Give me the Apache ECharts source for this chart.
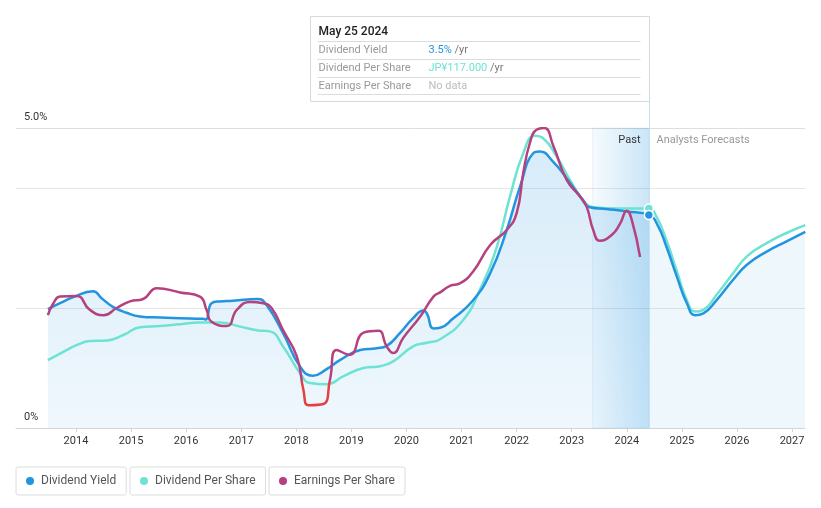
<!DOCTYPE html>
<html><head><meta charset="utf-8">
<script src="https://cdn.jsdelivr.net/npm/echarts@6/dist/echarts.min.js"></script>
<style>html,body{margin:0;padding:0;background:#fff}#c{width:821px;height:508px}</style>
</head><body><div id="c"></div>
<script>
// ---- data ----
const yearTicks = [2014,2015,2016,2017,2018,2019,2020,2021,2022,2023,2024,2025,2026,2027];
const yieldT = [2013.49,2013.71,2013.95,2014.31,2014.47,2014.67,2014.92,2015.16,2015.53,2015.89,2016.31,2016.36,2016.46,2016.61,2016.85,2017.30,2017.46,2017.76,2018.07,2018.30,2018.55,2018.79,2019.16,2019.46,2019.64,2019.88,2020.12,2020.31,2020.37,2020.49,2020.61,2020.84,2021.21,2021.52,2021.82,2022.06,2022.30,2022.42,2022.66,2022.91,2023.15,2023.33,2023.63,2024.00,2024.40,2024.57,2024.72,2024.91,2025.09,2025.24,2025.39,2025.63,2025.93,2026.18,2026.54,2026.90,2027.24];
const yieldV = [1.98,2.08,2.18,2.28,2.16,2.02,1.92,1.86,1.84,1.83,1.82,1.81,2.08,2.11,2.12,2.15,2.05,1.58,1.02,0.87,0.98,1.13,1.30,1.33,1.37,1.58,1.83,1.96,1.91,1.66,1.67,1.82,2.13,2.58,3.30,4.02,4.58,4.61,4.44,4.16,3.86,3.68,3.65,3.61,3.55,3.36,3.02,2.52,2.08,1.88,1.91,2.13,2.47,2.72,2.94,3.11,3.27];
const dpsT = [2013.49,2013.77,2014.01,2014.25,2014.56,2014.86,2015.16,2015.53,2015.89,2016.25,2016.61,2016.98,2017.28,2017.52,2017.76,2018.07,2018.25,2018.55,2018.85,2019.22,2019.52,2019.76,2020.12,2020.37,2020.61,2021.03,2021.33,2021.64,2021.88,2022.12,2022.33,2022.48,2022.73,2022.97,2023.21,2023.39,2023.88,2024.40,2024.54,2024.72,2024.91,2025.09,2025.24,2025.39,2025.63,2025.93,2026.18,2026.54,2026.90,2027.24];
const dpsV = [1.13,1.27,1.38,1.45,1.46,1.55,1.68,1.70,1.73,1.76,1.76,1.69,1.63,1.61,1.36,0.91,0.75,0.73,0.86,1.00,1.03,1.11,1.36,1.42,1.48,1.80,2.30,3.02,3.86,4.58,4.87,4.83,4.52,4.13,3.80,3.68,3.66,3.66,3.52,3.13,2.61,2.13,1.94,1.97,2.22,2.58,2.86,3.08,3.25,3.38];
const epsT = [2013.49,2013.59,2013.71,2014.01,2014.25,2014.50,2014.74,2014.98,2015.22,2015.47,2015.89,2016.25,2016.37,2016.46,2016.74,2016.92,2017.16,2017.40,2017.55,2017.76,2018.01,2018.13,2018.22,2018.49,2018.61,2018.73,2018.97,2019.22,2019.49,2019.64,2019.76,2019.94,2020.25,2020.49,2020.61,2020.79,2020.97,2021.21,2021.52,2021.82,2022.00,2022.12,2022.24,2022.36,2022.50,2022.67,2022.91,2023.15,2023.27,2023.39,2023.51,2023.73,2023.88,2024.00,2024.09,2024.24];
const epsV = [1.88,2.08,2.19,2.20,1.97,1.88,2.00,2.11,2.15,2.33,2.26,2.19,1.97,1.77,1.70,1.97,2.10,2.08,2.00,1.63,1.19,0.63,0.38,0.40,0.80,1.30,1.22,1.59,1.62,1.36,1.25,1.50,1.86,2.19,2.26,2.37,2.41,2.61,3.05,3.30,3.58,4.25,4.75,4.97,5.00,4.69,4.13,3.86,3.69,3.30,3.12,3.22,3.41,3.62,3.47,2.85];
const epsRedBelow = 0.78;
const pastStart = 2023.38;
const todayT = 2024.40;
const yMin = 0, yMax = 5;

// ---- build ----
const zip = (t, v) => t.map((x, i) => [x, v[i]]);
const yieldData = zip(yieldT, yieldV);
const dpsData = zip(dpsT, dpsV);
const epsData = zip(epsT, epsV);
const yieldPast = yieldData.filter(d => d[0] <= todayT);
const yieldFuture = yieldData.filter(d => d[0] >= todayT);
const todayYield = yieldV[yieldT.indexOf(todayT)];
const todayDps = dpsV[dpsT.indexOf(todayT)];

const C_BLUE = '#2394df', C_TEAL = '#6ee3d3', C_EPS = '#b5417f', C_RED = '#e5403f';
const FONT = 'Roboto, "Noto Sans", sans-serif';
const SM = 0.5;

const chart = echarts.init(document.getElementById('c'), null, {renderer: 'canvas'});
const legendBase = {
  top: 467, orient: 'horizontal', icon: 'circle', itemWidth: 12, itemHeight: 8,
  padding: [8, 10, 8, 10], borderColor: '#dcdcdc', borderWidth: 1, borderRadius: 2,
  textStyle: {color: '#555', fontSize: 12, fontFamily: FONT}, selectedMode: false
};
chart.setOption({
  animation: false,
  grid: {left: 16, right: 16, top: 128, bottom: 80, containLabel: false},
  legend: [
    Object.assign({}, legendBase, {left: 16, data: [{name: 'Dividend Yield', itemStyle: {color: C_BLUE}}]}),
    Object.assign({}, legendBase, {left: 130, data: [{name: 'Dividend Per Share', itemStyle: {color: C_TEAL}}]}),
    Object.assign({}, legendBase, {left: 269, data: [{name: 'Earnings Per Share', itemStyle: {color: C_EPS}}]})
  ],
  xAxis: {
    type: 'value', min: 2012.911, max: 2027.235,
    axisLine: {show: true, lineStyle: {color: '#d4d4d4', width: 1}},
    axisTick: {show: true, customValues: yearTicks, length: 4, lineStyle: {color: '#d4d4d4'}},
    axisLabel: {customValues: yearTicks, formatter: v => String(v), color: '#333', fontSize: 11, fontFamily: FONT, margin: 8},
    splitLine: {show: false}
  },
  yAxis: {
    type: 'value', min: yMin, max: yMax, interval: 1,
    axisLine: {show: false}, axisTick: {show: false},
    axisLabel: {
      customValues: [0, 5], inside: true, formatter: v => v === 5 ? '5.0%' : '0%',
      color: '#333', fontSize: 11, fontFamily: FONT, verticalAlign: 'bottom', margin: 8, padding: [0, 0, 5, 0]
    },
    splitLine: {show: true, lineStyle: {color: ['rgba(0,0,0,0)', 'rgba(0,0,0,0)', '#e6e6e6', 'rgba(0,0,0,0)', '#e6e6e6', '#dedede'], width: 1}}
  },
  series: [
    {
      name: 'pastArea', type: 'line', data: yieldPast, smooth: SM, showSymbol: false, silent: true,
      lineStyle: {width: 0}, z: 1,
      areaStyle: {color: new echarts.graphic.LinearGradient(0, 0, 0, 1, [
        {offset: 0, color: 'rgba(35,148,223,0.26)'}, {offset: 1, color: 'rgba(35,148,223,0.10)'}])},
      markArea: {
        silent: true,
        itemStyle: {color: new echarts.graphic.LinearGradient(0, 0, 1, 0, [
          {offset: 0, color: 'rgba(35,148,223,0.04)'}, {offset: 1, color: 'rgba(35,148,223,0.24)'}]),
          borderColor: 'rgba(35,148,223,0.10)', borderWidth: 1},
        data: [[{xAxis: pastStart, yAxis: yMin}, {xAxis: todayT, yAxis: yMax}]]
      }
    },
    {
      name: 'futureArea', type: 'line', data: yieldFuture, smooth: SM, showSymbol: false, silent: true,
      lineStyle: {width: 0}, z: 1,
      areaStyle: {color: 'rgba(35,148,223,0.11)'}
    },
    {
      name: 'Dividend Per Share', type: 'line', data: dpsData, smooth: SM, showSymbol: false,
      lineStyle: {color: C_TEAL, width: 2.5}, itemStyle: {color: C_TEAL}, z: 3,
      markPoint: {symbol: 'circle', symbolSize: 9, label: {show: false}, silent: true, z: 6,
        itemStyle: {color: C_TEAL, borderColor: '#fff', borderWidth: 1.5},
        data: [{coord: [todayT, todayDps]}]}
    },
    {
      name: 'Dividend Yield', type: 'line', data: yieldData, smooth: SM, showSymbol: false,
      lineStyle: {color: C_BLUE, width: 2.5}, itemStyle: {color: C_BLUE}, z: 4,
      markPoint: {symbol: 'circle', symbolSize: 9, label: {show: false}, silent: true, z: 7,
        itemStyle: {color: C_BLUE, borderColor: '#fff', borderWidth: 1.5},
        data: [{coord: [todayT, todayYield]}]}
    },
    {
      name: 'Earnings Per Share', type: 'line', data: epsData, smooth: SM, showSymbol: false,
      lineStyle: {width: 2.5, color: C_EPS}, itemStyle: {color: C_EPS}, z: 5
    }
  ]
});

// annotations positioned through the axes
const pTop = chart.convertToPixel({gridIndex: 0}, [todayT, yMax]);
const pBot = chart.convertToPixel({gridIndex: 0}, [todayT, yMin]);
const yThr = chart.convertToPixel({yAxisIndex: 0}, epsRedBelow);
const xr = Math.round(pTop[0]) + 0.5;
const boxL = xr - 339, boxT = 16.5;
chart.setOption({
  series: [{}, {}, {}, {}, {
    lineStyle: {color: new echarts.graphic.LinearGradient(0, yThr - 0.5, 0, yThr + 0.5, [
      {offset: 0, color: C_EPS}, {offset: 1, color: C_RED}], true)}
  }],
  graphic: [
    {type: 'line', z: 2, silent: true, shape: {x1: xr, y1: boxT, x2: xr, y2: pBot[1]}, style: {stroke: '#c9e1f5', lineWidth: 1}},
    {type: 'rect', z: 60, silent: true, shape: {x: boxL, y: boxT, width: 339, height: 85}, style: {fill: '#fff', stroke: '#d9d9d9', lineWidth: 1}},
    {type: 'text', z: 61, silent: true, x: boxL + 8, y: 32, style: {text: 'May 25 2024', fill: '#222', font: '500 12px ' + FONT, verticalAlign: 'middle'}},
    {type: 'line', z: 61, silent: true, shape: {x1: boxL + 7, y1: 41.5, x2: xr - 9, y2: 41.5}, style: {stroke: '#dcdcdc', lineWidth: 1}},
    {type: 'line', z: 61, silent: true, shape: {x1: boxL + 7, y1: 59.5, x2: xr - 9, y2: 59.5}, style: {stroke: '#dcdcdc', lineWidth: 1}},
    {type: 'line', z: 61, silent: true, shape: {x1: boxL + 7, y1: 77.5, x2: xr - 9, y2: 77.5}, style: {stroke: '#dcdcdc', lineWidth: 1}},
    {type: 'line', z: 61, silent: true, shape: {x1: boxL + 7, y1: 94.5, x2: xr - 9, y2: 94.5}, style: {stroke: '#dcdcdc', lineWidth: 1}},
    {type: 'text', z: 61, silent: true, x: boxL + 8, y: 50.5, style: {text: 'Dividend Yield', fill: '#999', font: '11px ' + FONT, verticalAlign: 'middle'}},
    {type: 'text', z: 61, silent: true, x: boxL + 8, y: 68, style: {text: 'Dividend Per Share', fill: '#999', font: '11px ' + FONT, verticalAlign: 'middle'}},
    {type: 'text', z: 61, silent: true, x: boxL + 8, y: 86, style: {text: 'Earnings Per Share', fill: '#999', font: '11px ' + FONT, verticalAlign: 'middle'}},
    {type: 'text', z: 61, silent: true, x: boxL + 118, y: 50.5, style: {
      text: '{a|' + todayYield.toFixed(1) + '%}{b| /yr}', verticalAlign: 'middle',
      rich: {a: {fill: C_BLUE, font: '11px ' + FONT}, b: {fill: '#777', font: '11px ' + FONT}}}},
    {type: 'text', z: 61, silent: true, x: boxL + 118, y: 68, style: {
      text: '{a|JP¥117.000}{b| /yr}', verticalAlign: 'middle',
      rich: {a: {fill: C_TEAL, font: '11px ' + FONT}, b: {fill: '#777', font: '11px ' + FONT}}}},
    {type: 'text', z: 61, silent: true, x: boxL + 118, y: 86, style: {text: 'No data', fill: '#bbb', font: '11px ' + FONT, verticalAlign: 'middle'}},
    {type: 'text', z: 40, silent: true, x: xr - 9, y: pTop[1] + 12.5, style: {text: 'Past', fill: '#333', font: '11px ' + FONT, align: 'right', verticalAlign: 'middle'}},
    {type: 'text', z: 40, silent: true, x: xr + 7, y: pTop[1] + 12.5, style: {text: 'Analysts Forecasts', fill: '#999', font: '11px ' + FONT, align: 'left', verticalAlign: 'middle'}}
  ]
});
</script>
</body></html>
